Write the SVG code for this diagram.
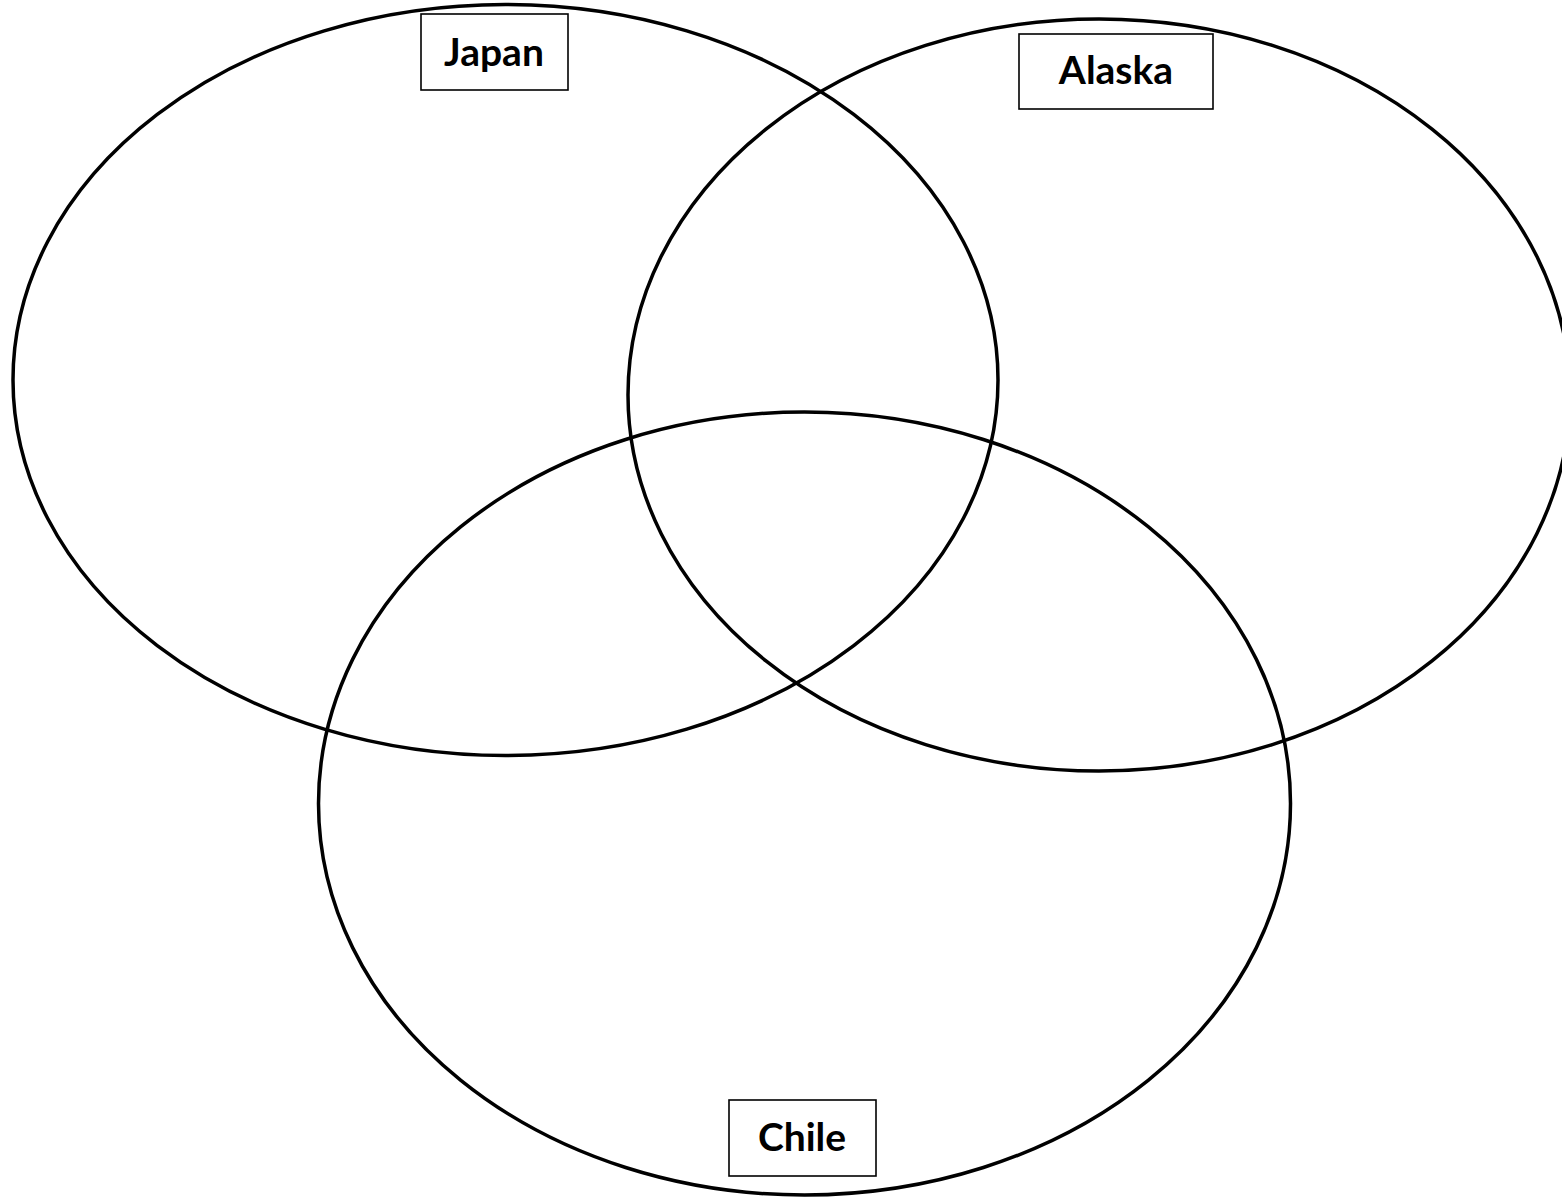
<svg xmlns="http://www.w3.org/2000/svg" width="1562" height="1198" viewBox="0 0 1562 1198">
<style>
.ring{fill:none;stroke:#000;stroke-width:3.5}
.box{fill:#fff;stroke:#000;stroke-width:1.6}
.lbl{font-family:Lato,"Open Sans","Liberation Sans",sans-serif;font-weight:bold;font-size:39px;fill:#000;text-anchor:middle}
</style>
<rect width="1562" height="1198" fill="#fff"/>
<g id="japan">
<ellipse class="ring" cx="505.5" cy="380" rx="492.5" ry="375.5"/>
<rect class="box" x="421" y="14" width="147" height="76"/>
<text class="lbl" x="494" y="66">Japan</text>
</g>
<g id="alaska">
<ellipse class="ring" cx="1099" cy="395" rx="471" ry="376"/>
<rect class="box" x="1019" y="34" width="194" height="75"/>
<text class="lbl" x="1116" y="84">Alaska</text>
</g>
<g id="chile">
<ellipse class="ring" cx="804.5" cy="803.5" rx="486" ry="391.5"/>
<rect class="box" x="729" y="1100" width="147" height="76"/>
<text class="lbl" x="802" y="1151">Chile</text>
</g>
<g id="connectors"/>
</svg>
